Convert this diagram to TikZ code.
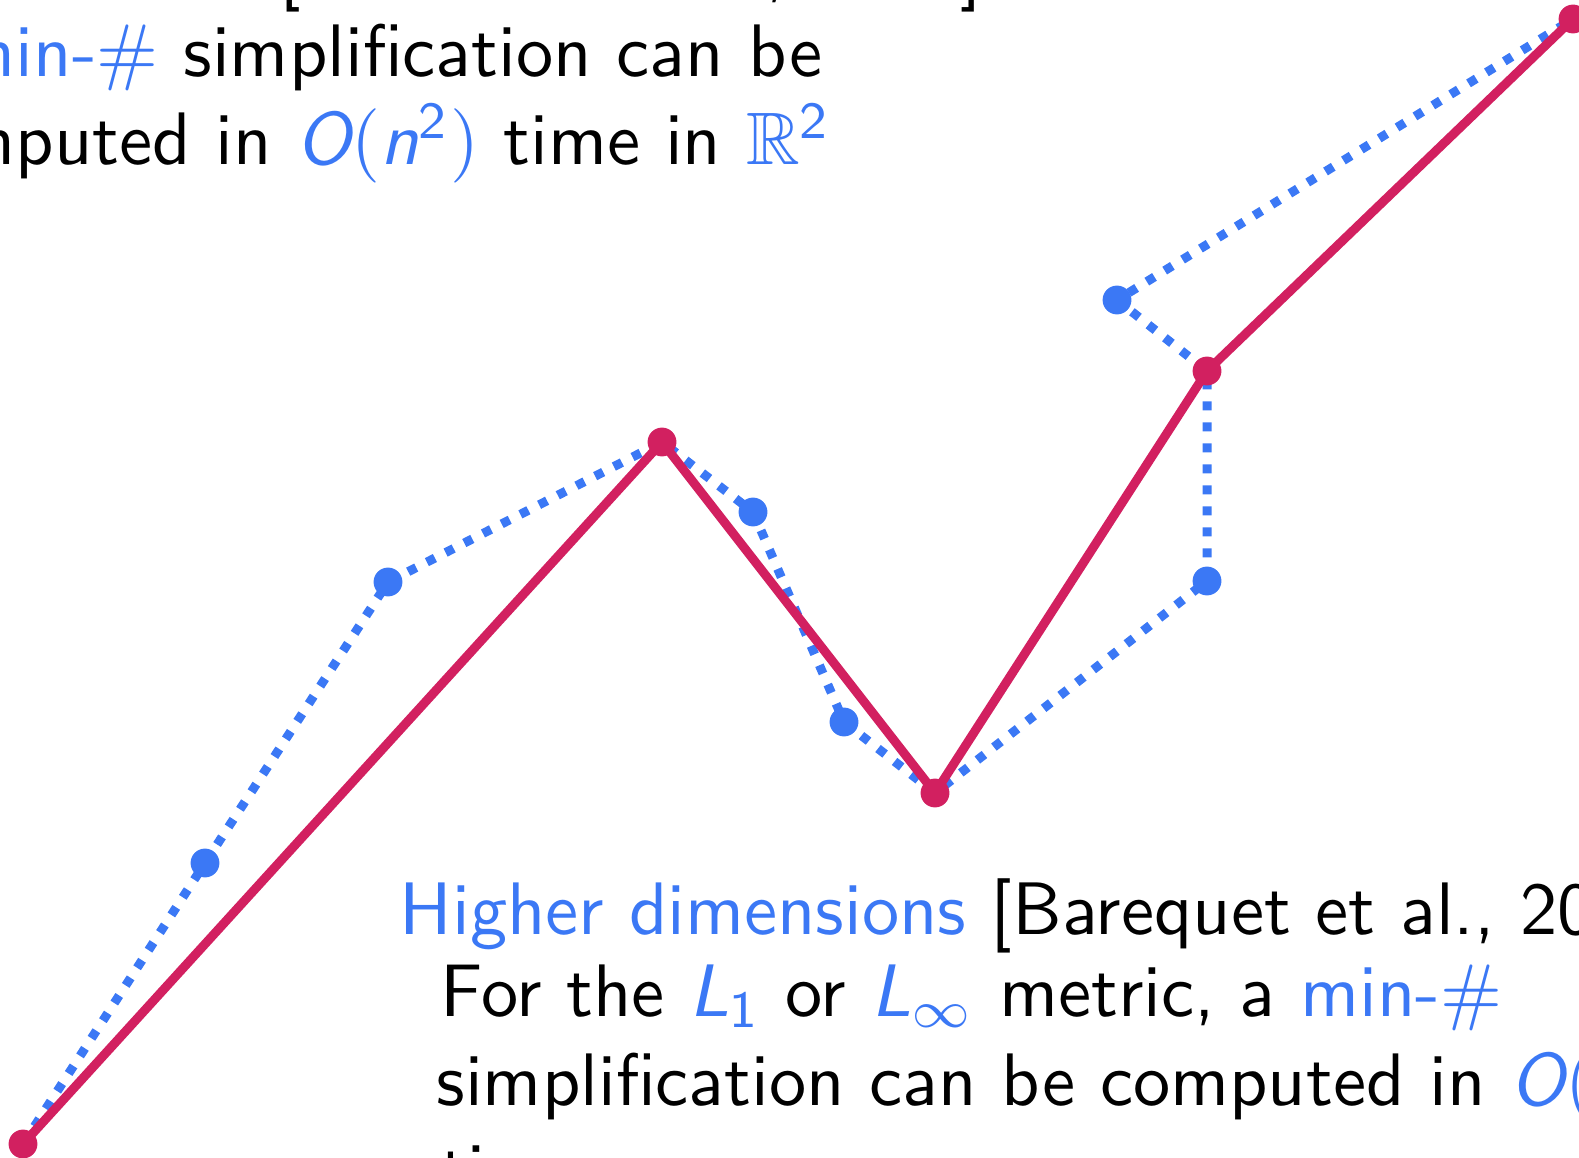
\documentclass[tikz,border=0pt]{standalone}
\usepackage{xcolor}
\usepackage{amsmath}
\usepackage{amssymb}
\usepackage{graphicx}
\usepackage{tikz}
\usetikzlibrary{positioning}

\definecolor{hlblue}{RGB}{59,120,245}
\definecolor{simpred}{RGB}{210,32,96}
\newcommand{\mvar}[1]{\text{\sffamily\slshape #1}}
\newcommand{\hl}[1]{\textcolor{hlblue}{#1}}
\newcommand{\slidetext}[1]{\scalebox{2.115}{\fontsize{10}{12}\selectfont\sffamily #1}}

\begin{document}
\begin{tikzpicture}[
  x=0.01cm, y=-0.01cm,
  txt/.style={inner sep=0pt},
  origline/.style={hlblue, line width=2.56pt, dash pattern=on 2.56pt off 3.41pt},
  simpline/.style={simpred, line width=2.56pt, line join=round},
  origdot/.style={fill=hlblue},
  simpdot/.style={fill=simpred}
]
\useasboundingbox (0,0) rectangle (1579,1158);

% vertices of the input curve and of its simplification
\coordinate (p0) at (23,1144);
\coordinate (q1) at (205,863);
\coordinate (q2) at (388,582);
\coordinate (p1) at (662,442);
\coordinate (q3) at (753,512);
\coordinate (q4) at (844,722);
\coordinate (p2) at (935,793);
\coordinate (q5) at (1207,581);
\coordinate (p3) at (1207,371);
\coordinate (q6) at (1117,300);
\coordinate (p4) at (1573,19);

\draw[origline] (p0) -- (q1) -- (q2) -- (p1) -- (q3) -- (q4) -- (p2) -- (q5) -- (p3) -- (q6) -- (p4);
\foreach \q in {q1,q2,q3,q4,q5,q6}
  \fill[origdot] (\q) circle (4.1pt);

\draw[simpline] (p0) -- (p1) -- (p2) -- (p3) -- (p4);
\foreach \p in {p0,p1,p2,p3,p4}
  \fill[simpdot] (\p) circle (4.1pt);

% text, top left
\node[txt, anchor=base west] (cite2d) at (279,-6) {\slidetext{[Chan and Chin, 1996]}};
\node[txt, anchor=base east] (top1) at (823,77) {\slidetext{\hl{min-$\#$} simplification can be}};
\node[txt, anchor=base east] (top2) at (832,165) {\slidetext{computed in \hl{$\mvar{O}(\mvar{n}^{\text{2}})$} time in \hl{$\mathbb{R}^{\text{2}}$}}};

% text, bottom right
\node[txt, anchor=base west] (head) at (399,934) {\slidetext{\hl{Higher dimensions} [Barequet et al., 2002]}};
\node[txt, anchor=base west] (body1) at (440,1016) {\slidetext{For the \hl{$\mvar{L}_{\text{1}}$} or \hl{$\mvar{L}_\infty$} metric, a \hl{min-$\#$}}};
\node[txt, anchor=base west] (body2) at (436,1105) {\slidetext{simplification can be computed in \hl{$\mvar{O}(\mvar{n}^{\text{2}})$}}};
\node[txt, anchor=base west] (body3) at (440,1194) {\slidetext{time.}};
\end{tikzpicture}
\end{document}
